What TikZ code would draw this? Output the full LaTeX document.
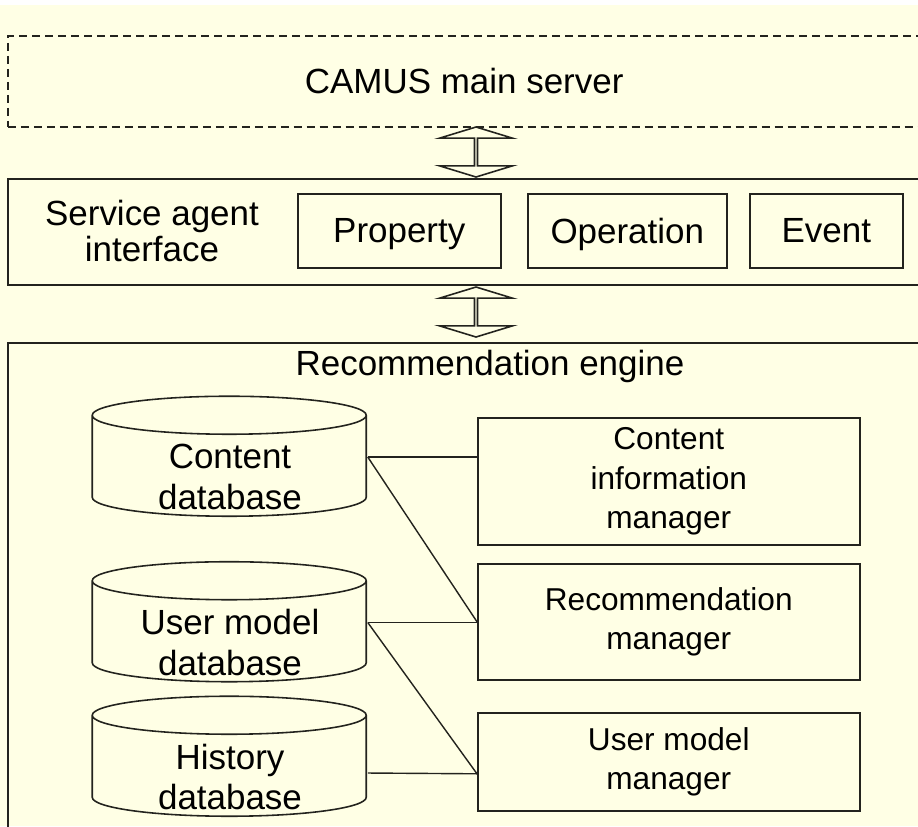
\documentclass[tikz,border=0pt]{standalone}
\usepackage{fontspec}
\setmainfont{Liberation Sans}
\usetikzlibrary{shapes, shapes.geometric, shapes.arrows, calc, positioning}
\definecolor{paper}{RGB}{255,255,229}
\definecolor{ink}{RGB}{35,35,30}

\begin{document}
\begin{tikzpicture}[x=0.02cm, y=-0.02cm, line width=0.9pt, font=\fontsize{19.9}{23.3}\selectfont,
	box/.style={draw=ink, rectangle, inner sep=0pt, align=center, anchor=north west},
	mgr/.style={box, minimum width=7.64cm, font=\fontsize{18}{22.6}\selectfont},
	dbase/.style={minimum width=5.48cm, minimum height=2.4cm, inner sep=0pt},
	link/.style={draw=ink, line width=0.8pt}]
	\tikzset{darrow/.style={draw=ink, fill=paper, double arrow, shape border rotate=90, minimum height=1cm, minimum width=1.46cm, double arrow head extend=0.37cm, double arrow tip angle=146, inner sep=0pt}}
	\useasboundingbox (0,0) rectangle (918,826);
	\clip (0,0) rectangle (918,826);
	\fill[white] (0,0) rectangle (918,5);
	\fill[paper] (0,5) rectangle (918,826);
	% outer layers
	\node[box, dashed, dash pattern=on 0.16cm off 0.1cm, minimum width=18.26cm, minimum height=1.82cm] (server) at (7,35) {CAMUS main server};
	\node[box, minimum width=18.26cm, minimum height=2.12cm] (agent) at (7,178) {};
	\node[align=center, font=\fontsize{19.9}{20.5}\selectfont] (agenttxt) at (152,231) {Service agent\\interface};
	\node[box, text depth=0pt, minimum width=4.06cm, minimum height=1.48cm] (prop) at (297,193) {Property};
	\node[box, text depth=0pt, minimum width=3.98cm, minimum height=1.48cm] (op) at (527,193) {Operation};
	\node[box, text depth=0pt, minimum width=3.06cm, minimum height=1.48cm] (event) at (749,193) {Event};
	\node[box, minimum width=18.26cm, minimum height=10.36cm] (engine) at (7,342) {};
	\node (enginetxt) at (490,366) {Recommendation engine};
	\node[darrow] (arrA) at (476,152) {};
	\node[darrow] (arrB) at (476,312) {};
	% databases
	\node[dbase] (cdb) at (230,457) {};
	\node[dbase] (udb) at (230,622.5) {};
	\node[dbase] (hdb) at (230,757) {};
	\foreach \d in {cdb,udb,hdb}
		\draw[ink] (\d.north west) ++(0,19) -- ++(0,82)
			arc[start angle=180, end angle=0, x radius=137, y radius=19] -- ++(0,-82)
			arc[start angle=0, end angle=-180, x radius=137, y radius=19]
			arc[start angle=180, end angle=0, x radius=137, y radius=19];
	\node[align=center] (cdbtxt) at ($(cdb.center)+(0,20)$) {Content\\database};
	\node[align=center] (udbtxt) at ($(udb.center)+(0,20)$) {User model\\database};
	\node[align=center] (hdbtxt) at ($(hdb.center)+(0,20)$) {History\\database};
	% managers
	\node[mgr, minimum height=2.54cm] (cim) at (477,417) {Content\\information\\manager};
	\node[mgr, minimum height=2.32cm] (rm) at (477,563) {Recommendation\\manager};
	\node[mgr, minimum height=1.96cm] (umm) at (477,712) {User model\\manager};
	\coordinate (hout) at ($(hdb.east)+(0,16)$);
	\coordinate (uin) at ($(umm.west)+(0,12)$);
	\path[link]
		(cdb.east)
			edge (cdb.east -| cim.west)
			edge (rm.west)
		(udb.east)
			edge (udb.east -| rm.west)
			edge (uin)
		(hout)
			edge (uin);
\end{tikzpicture}
\end{document}
